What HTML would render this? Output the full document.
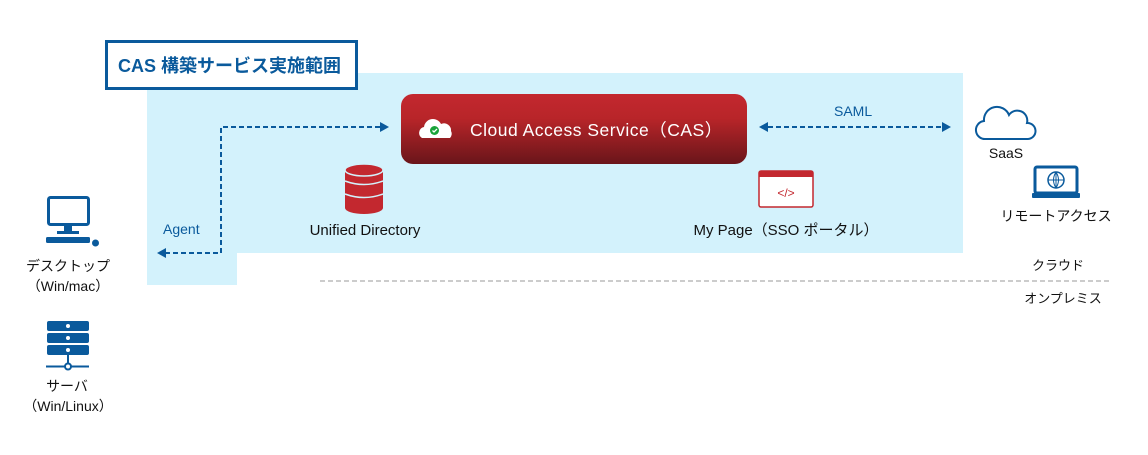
<!DOCTYPE html>
<html><head><meta charset="utf-8"><style>
body{margin:0;width:1148px;height:450px;background:#fff;overflow:hidden;font-family:"Liberation Sans","Noto Sans CJK JP",sans-serif}
svg text{font-family:"Liberation Sans","Noto Sans CJK JP",sans-serif}
</style></head><body>
<svg width="1148" height="450" viewBox="0 0 1148 450" xmlns="http://www.w3.org/2000/svg">
<defs>
<linearGradient id="rg" x1="0" y1="0" x2="0" y2="1"><stop offset="0" stop-color="#c3282f"/><stop offset="0.35" stop-color="#b82529"/><stop offset="1" stop-color="#69151a"/></linearGradient>
</defs>
<path d="M147 73H963V253H237V285H147Z" fill="#d3f2fc"/>
<rect x="106.5" y="41.5" width="250" height="47" fill="#fff" stroke="#0a5a9c" stroke-width="3"/>
<text x="118" y="72" font-size="18" fill="#0a5a9c" font-weight="bold">CAS 構築サービス実施範囲</text>
<rect x="401" y="94" width="346" height="70" rx="12" fill="url(#rg)"/>
<path d="M422 138a6 6 0 0 1 2-11a9 9 0 0 1 17-3a7 7 0 0 1 10 7a6 6 0 0 1-1 7Z" fill="#fff"/>
<circle cx="434.5" cy="130.5" r="4.5" fill="#1aa33a"/>
<path d="M432.5 130.5l1.5 1.5l3-3" stroke="#fff" stroke-width="1.3" fill="none"/>
<text x="470" y="136" font-size="17.5" fill="#fff" letter-spacing="0.5">Cloud Access Service（CAS）</text>
<g stroke="#0a5a9c" stroke-width="2" stroke-dasharray="5,3" fill="none">
<path d="M380 127H221V253H165"/>
<path d="M768 127H942"/>
</g>
<g fill="#0a5a9c">
<path d="M389 127l-9-5v10z"/><path d="M157 253l9-5v10z"/>
<path d="M759 127l9-5v10z"/><path d="M951 127l-9-5v10z"/>
</g>
<text x="163" y="234" font-size="14" fill="#0a5a9c">Agent</text>
<text x="834" y="116" font-size="14" fill="#0a5a9c">SAML</text>
<g fill="#c3282f">
<ellipse cx="364" cy="170" rx="19" ry="6"/>
<rect x="345" y="170" width="38" height="38"/>
<ellipse cx="364" cy="208" rx="19" ry="6"/>
</g>
<g stroke="#d3f2fc" stroke-width="1.5" fill="none"><path d="M345 181q19 7 38 0M345 194q19 7 38 0"/></g>
<ellipse cx="364" cy="170" rx="19" ry="6" fill="#c3282f" stroke="#d3f2fc" stroke-width="1.5"/>
<text x="365" y="235" font-size="15" fill="#111" text-anchor="middle">Unified Directory</text>
<rect x="759" y="171" width="54" height="36" rx="2" fill="#fff" stroke="#c3282f" stroke-width="1.5"/>
<rect x="759" y="171" width="54" height="6" fill="#c3282f"/>
<text x="786" y="197" font-size="12" fill="#c3282f" text-anchor="middle">&lt;/&gt;</text>
<text x="786" y="235" font-size="15" fill="#111" text-anchor="middle">My Page（SSO ポータル）</text>
<path d="M986 139a9 9 0 0 1-2-18a13 13 0 0 1 25-6a10 10 0 0 1 18 8a8 8 0 0 1 1 16Z" fill="none" stroke="#0a5a9c" stroke-width="2"/>
<text x="1006" y="158" font-size="14" fill="#111" text-anchor="middle">SaaS</text>
<rect x="1035" y="167" width="42" height="26" rx="2" fill="none" stroke="#0a5a9c" stroke-width="3"/>
<rect x="1032" y="193" width="48" height="5" rx="1" fill="#0a5a9c"/>
<circle cx="1056" cy="180" r="8" fill="none" stroke="#0a5a9c" stroke-width="1.5"/>
<path d="M1048 180h16M1056 172v16M1056 172q-5 8 0 16M1056 172q5 8 0 16" stroke="#0a5a9c" stroke-width="1" fill="none"/>
<text x="1056" y="221" font-size="14" fill="#111" text-anchor="middle">リモートアクセス</text>
<text x="1058" y="270" font-size="13" fill="#111" text-anchor="middle">クラウド</text>
<line x1="320" y1="281" x2="1112" y2="281" stroke="#999" stroke-width="1" stroke-dasharray="5,3"/>
<text x="1063" y="303" font-size="13" fill="#111" text-anchor="middle">オンプレミス</text>
<rect x="48.5" y="197.5" width="40" height="27" rx="2" fill="none" stroke="#0a5a9c" stroke-width="3"/>
<rect x="64" y="225" width="8" height="6" fill="#0a5a9c"/>
<rect x="57" y="231" width="22" height="3" fill="#0a5a9c"/>
<rect x="46" y="237" width="44" height="6" rx="1.5" fill="#0a5a9c"/>
<circle cx="95.5" cy="243" r="3.5" fill="#0a5a9c"/>
<text x="68" y="271" font-size="14" fill="#111" text-anchor="middle">デスクトップ</text>
<text x="68" y="291" font-size="14" fill="#111" text-anchor="middle">（Win/mac）</text>
<g fill="#0a5a9c">
<rect x="47" y="321" width="42" height="10" rx="2"/>
<rect x="47" y="333" width="42" height="10" rx="2"/>
<rect x="47" y="345" width="42" height="10" rx="2"/>
<rect x="67" y="355" width="2" height="8"/>
<rect x="46" y="365.5" width="43" height="2"/>
</g>
<g fill="#fff"><circle cx="68" cy="326" r="2"/><circle cx="68" cy="338" r="2"/><circle cx="68" cy="350" r="2"/></g>
<circle cx="68" cy="366.5" r="3" fill="#fff" stroke="#0a5a9c" stroke-width="2"/>
<text x="67" y="391" font-size="14" fill="#111" text-anchor="middle">サーバ</text>
<text x="68" y="411" font-size="14" fill="#111" text-anchor="middle">（Win/Linux）</text>
</svg>
</body></html>
